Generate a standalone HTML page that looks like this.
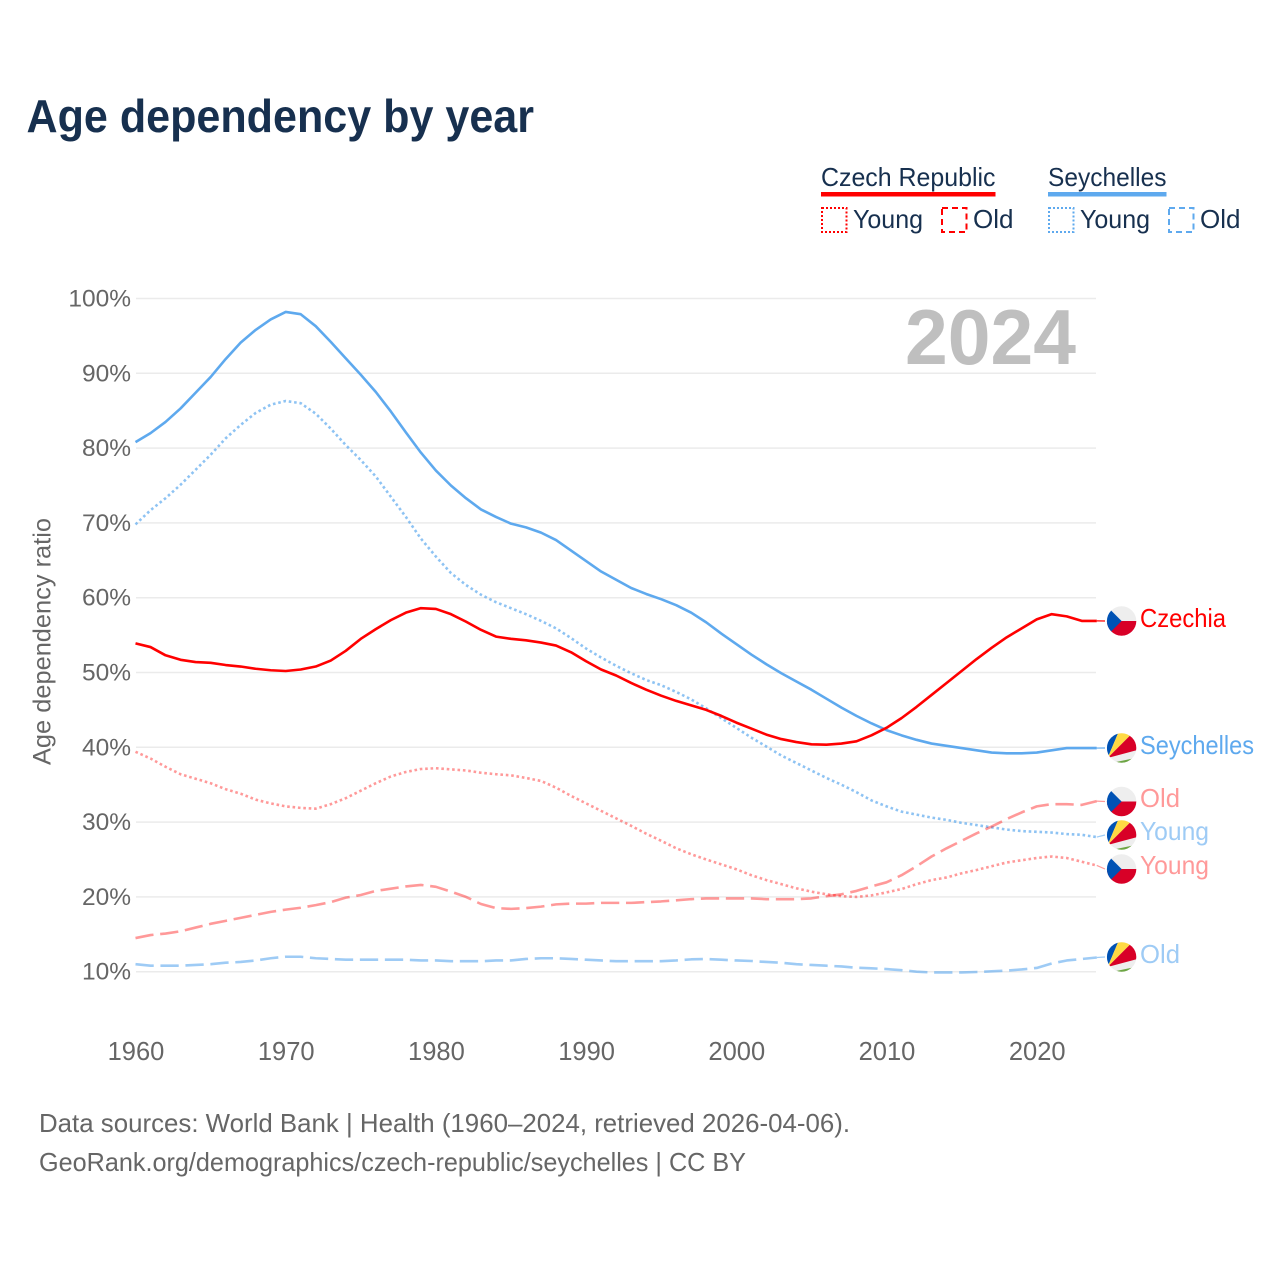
<!DOCTYPE html>
<html lang="en">
<head>
<meta charset="utf-8">
<title>Age dependency by year</title>
<style>
html,body{margin:0;padding:0;background:#fff;}
svg{display:block;font-family:"Liberation Sans",Arial,sans-serif;}
</style>
</head>
<body>
<svg id="chart" xmlns="http://www.w3.org/2000/svg" width="1280" height="1280" viewBox="0 0 1280 1280">
  <rect x="0" y="0" width="1280" height="1280" fill="#ffffff"/>
  <text x="26.5" y="132" font-size="46" font-weight="700" fill="#17304f" textLength="507.5" lengthAdjust="spacingAndGlyphs">Age dependency by year</text>

  <g font-size="26" fill="#17304f">
    <text x="821" y="186" textLength="174.5" lengthAdjust="spacingAndGlyphs">Czech Republic</text>
    <rect x="821" y="192" width="174.5" height="4.5" fill="#ff0000"/>
    <rect x="822" y="208" width="24.5" height="24" fill="none" stroke="#ff0000" stroke-width="2" stroke-dasharray="2 2"/>
    <text x="853" y="228" textLength="70" lengthAdjust="spacingAndGlyphs">Young</text>
    <rect x="942" y="208" width="24.5" height="24" fill="none" stroke="#ff0000" stroke-width="2" stroke-dasharray="6 4"/>
    <text x="973" y="228" textLength="40.5" lengthAdjust="spacingAndGlyphs">Old</text>
    <text x="1048" y="186" textLength="118.5" lengthAdjust="spacingAndGlyphs">Seychelles</text>
    <rect x="1048" y="192" width="118.5" height="4.5" fill="#5ea9ee"/>
    <rect x="1049" y="208" width="24.5" height="24" fill="none" stroke="#5ea9ee" stroke-width="2" stroke-dasharray="2 2"/>
    <text x="1080" y="228" textLength="70" lengthAdjust="spacingAndGlyphs">Young</text>
    <rect x="1169" y="208" width="24.5" height="24" fill="none" stroke="#5ea9ee" stroke-width="2" stroke-dasharray="6 4"/>
    <text x="1200" y="228" textLength="40.5" lengthAdjust="spacingAndGlyphs">Old</text>
  </g>

  <g id="grid"></g>
  <g id="yticks"></g>
  <g id="xticks"></g>
  <text x="905" y="364" font-size="78" font-weight="700" fill="#bfbfbf" textLength="171" lengthAdjust="spacingAndGlyphs">2024</text>
  <text transform="translate(50.5,765) rotate(-90)" font-size="25" fill="#666666" textLength="247" lengthAdjust="spacingAndGlyphs">Age dependency ratio</text>
  <g id="series"></g>
  <g id="endlabels"></g>

  <g font-size="26" fill="#666666">
    <text x="39" y="1132" textLength="811" lengthAdjust="spacingAndGlyphs">Data sources: World Bank | Health (1960–2024, retrieved 2026-04-06).</text>
    <text x="39" y="1171" textLength="707" lengthAdjust="spacingAndGlyphs">GeoRank.org/demographics/czech-republic/seychelles | CC BY</text>
  </g>
</svg>
<script>
var years = [1960,1961,1962,1963,1964,1965,1966,1967,1968,1969,1970,1971,1972,1973,1974,1975,1976,1977,1978,1979,1980,1981,1982,1983,1984,1985,1986,1987,1988,1989,1990,1991,1992,1993,1994,1995,1996,1997,1998,1999,2000,2001,2002,2003,2004,2005,2006,2007,2008,2009,2010,2011,2012,2013,2014,2015,2016,2017,2018,2019,2020,2021,2022,2023,2024];
var xTickLabels = [1960,1970,1980,1990,2000,2010,2020];
var yTickLabels = [10,20,30,40,50,60,70,80,90,100];

var czechTotal = [53.9,53.4,52.3,51.7,51.4,51.3,51.0,50.8,50.5,50.3,50.2,50.4,50.8,51.6,52.9,54.5,55.8,57.0,58.0,58.6,58.5,57.8,56.8,55.7,54.8,54.5,54.3,54.0,53.6,52.7,51.5,50.4,49.6,48.6,47.7,46.9,46.2,45.6,45.0,44.2,43.3,42.5,41.7,41.1,40.7,40.4,40.35,40.5,40.8,41.6,42.6,43.9,45.4,47.0,48.6,50.2,51.8,53.3,54.7,55.9,57.1,57.8,57.5,56.9,56.9];
var czechYoung = [39.4,38.5,37.4,36.4,35.8,35.2,34.4,33.8,33.0,32.5,32.1,31.9,31.8,32.4,33.2,34.2,35.2,36.1,36.7,37.1,37.2,37.05,36.9,36.6,36.4,36.25,35.9,35.5,34.6,33.5,32.5,31.5,30.5,29.5,28.45,27.5,26.5,25.7,25.0,24.35,23.7,22.9,22.25,21.7,21.15,20.7,20.35,20.1,20.0,20.2,20.6,21.05,21.7,22.25,22.6,23.15,23.6,24.1,24.6,24.9,25.2,25.4,25.2,24.7,24.2];
var czechOld = [14.5,14.9,15.1,15.4,15.9,16.4,16.8,17.2,17.6,18.0,18.3,18.55,18.9,19.3,19.9,20.25,20.8,21.1,21.4,21.6,21.35,20.7,20.0,19.05,18.5,18.4,18.5,18.7,19.0,19.1,19.1,19.2,19.2,19.2,19.3,19.4,19.55,19.7,19.8,19.8,19.8,19.8,19.7,19.7,19.7,19.8,20.1,20.35,20.8,21.4,21.95,22.9,24.1,25.4,26.5,27.5,28.5,29.4,30.4,31.3,32.1,32.4,32.4,32.3,32.8];
var seychellesTotal = [80.8,82.0,83.5,85.3,87.4,89.5,91.9,94.1,95.8,97.2,98.2,97.9,96.3,94.2,92.0,89.8,87.5,84.9,82.1,79.4,77.0,75.0,73.3,71.8,70.8,69.9,69.4,68.7,67.7,66.3,64.9,63.5,62.4,61.3,60.5,59.8,59.0,58.0,56.7,55.2,53.8,52.4,51.1,49.9,48.8,47.7,46.5,45.3,44.2,43.2,42.3,41.6,41.0,40.5,40.2,39.9,39.6,39.3,39.2,39.2,39.3,39.6,39.9,39.9,39.9];
var seychellesYoung = [69.8,71.7,73.3,75.1,77.1,79.1,81.3,83.1,84.7,85.8,86.3,86.0,84.6,82.6,80.4,78.4,76.2,73.5,70.8,67.9,65.5,63.3,61.7,60.4,59.4,58.6,57.8,56.9,55.9,54.6,53.2,52.0,50.9,49.9,49.0,48.3,47.4,46.4,45.2,43.9,42.6,41.3,40.1,38.9,37.9,36.9,35.9,35.0,34.0,32.9,32.1,31.4,31.0,30.6,30.3,29.9,29.6,29.3,29.0,28.8,28.7,28.6,28.4,28.3,28.0];
var seychellesOld = [11.0,10.8,10.8,10.8,10.9,11.0,11.2,11.3,11.5,11.8,12.0,12.0,11.8,11.7,11.6,11.6,11.6,11.6,11.6,11.5,11.5,11.4,11.4,11.4,11.5,11.5,11.7,11.8,11.8,11.7,11.6,11.5,11.4,11.4,11.4,11.4,11.5,11.65,11.7,11.6,11.5,11.43,11.3,11.2,11.0,10.9,10.8,10.7,10.53,10.45,10.35,10.2,10.0,9.9,9.9,9.9,9.96,10.05,10.15,10.3,10.5,11.1,11.5,11.7,11.9];

var SVGNS = 'http://www.w3.org/2000/svg';
function xScale(year){ return 135.5 + (year - 1960) * 15.02; }
function yScale(v){ return 971.7 - (v - 10) * 7.48; }
function make(tag, attrs, parent){
  var el = document.createElementNS(SVGNS, tag);
  for (var k in attrs) { el.setAttribute(k, attrs[k]); }
  parent.appendChild(el);
  return el;
}

var gridG = document.getElementById('grid');
var yTickG = document.getElementById('yticks');
yTickLabels.forEach(function(v){
  var line = make('line', {x1:136, x2:1096, y1:yScale(v), y2:yScale(v), stroke:'#ebebeb', 'stroke-width':1.5}, gridG);
  
  
  var t = make('text', {x:131, y:yScale(v) + 8, 'text-anchor':'end', 'font-size':24.5, fill:'#666666'}, yTickG);
  
  
  t.textContent = v + '%';
});

var xTickG = document.getElementById('xticks');
xTickLabels.forEach(function(y){
  var t = make('text', {x:xScale(y) + 0.5, y:1060, 'text-anchor':'middle', 'font-size':25.5, fill:'#666666'}, xTickG);
  
  
  t.textContent = y;
});

var seriesG = document.getElementById('series');
function drawSeries(name, values, color, opacity, dash){
  var pts = values.map(function(v, i){ return xScale(years[i]).toFixed(2) + ',' + yScale(v).toFixed(2); }).join(' ');
  var attrs = {points:pts, fill:'none', stroke:color, 'stroke-width':2.6, 'stroke-opacity':opacity, 'stroke-linejoin':'round'};
  if (dash) { attrs['stroke-dasharray'] = dash; }
  var p = make('polyline', attrs, seriesG);
  
  
}
drawSeries('line-seychelles-old', seychellesOld, '#5ea9ee', 0.6, '18.3 6.7');
drawSeries('line-seychelles-young', seychellesYoung, '#5ea9ee', 0.7, '2.6 2.8');
drawSeries('line-czech-old', czechOld, '#ff0000', 0.4, '18.3 6.7');
drawSeries('line-czech-young', czechYoung, '#ff0000', 0.4, '2.6 2.8');
drawSeries('line-seychelles-total', seychellesTotal, '#5ea9ee', 1, null);
drawSeries('line-czech-total', czechTotal, '#ff0000', 1, null);

var defs = make('defs', {}, document.getElementById('chart'));
var clip = make('clipPath', {id:'flag-clip'}, defs);
make('circle', {cx:0, cy:0, r:14.7}, clip);

function drawCzechFlag(g){
  make('rect', {x:-16, y:-16, width:32, height:16, fill:'#eeeeee'}, g);
  make('rect', {x:-16, y:0, width:32, height:16, fill:'#d80027'}, g);
  make('polygon', {points:'-16,-16 0,0 -16,16', fill:'#0052b4'}, g);
}
function drawSeychellesFlag(g){
  make('rect', {x:-16, y:-16, width:32, height:32, fill:'#eeeeee'}, g);
  make('polygon', {points:'-14,10 -16,-16 -3,-16', fill:'#0052b4'}, g);
  make('polygon', {points:'-14,10 -3,-16 12,-16', fill:'#ffda44'}, g);
  make('polygon', {points:'-14,10 12,-16 16,-12 16,2', fill:'#d80027'}, g);
  make('polygon', {points:'-8,14.5 16,9.5 16,16 -8,16', fill:'#6da544'}, g);
}

var endG = document.getElementById('endlabels');
function drawEnd(name, text, flag, color, opacity, flagY, baseline, width, lastValue){
  var lead = make('line', {x1:xScale(2024), y1:yScale(lastValue), x2:1105, y2:flagY, stroke:color, 'stroke-opacity':opacity, 'stroke-width':1.2}, endG);
  
  
  var g = make('g', {transform:'translate(1121.6,' + flagY + ')', 'clip-path':'url(#flag-clip)'}, endG);
  
  
  flag(g);
  var t = make('text', {x:1140, y:baseline, 'font-size':26, fill:color, 'fill-opacity':opacity, textLength:width, lengthAdjust:'spacingAndGlyphs'}, endG);
  
  
  t.textContent = text;
}
drawEnd('czech-old', 'Old', drawCzechFlag, '#ff0000', 0.4, 801.5, 807, 40, czechOld[czechOld.length-1]);
drawEnd('seychelles-young', 'Young', drawSeychellesFlag, '#5ea9ee', 0.6, 835, 840, 69, seychellesYoung[seychellesYoung.length-1]);
drawEnd('czech-young', 'Young', drawCzechFlag, '#ff0000', 0.4, 869, 874, 69, czechYoung[czechYoung.length-1]);
drawEnd('seychelles-old', 'Old', drawSeychellesFlag, '#5ea9ee', 0.6, 957, 963, 40, seychellesOld[seychellesOld.length-1]);
drawEnd('seychelles-total', 'Seychelles', drawSeychellesFlag, '#5ea9ee', 1, 748, 754, 114, seychellesTotal[seychellesTotal.length-1]);
drawEnd('czechia-total', 'Czechia', drawCzechFlag, '#ff0000', 1, 621, 627, 86, czechTotal[czechTotal.length-1]);
</script>
</body>
</html>
